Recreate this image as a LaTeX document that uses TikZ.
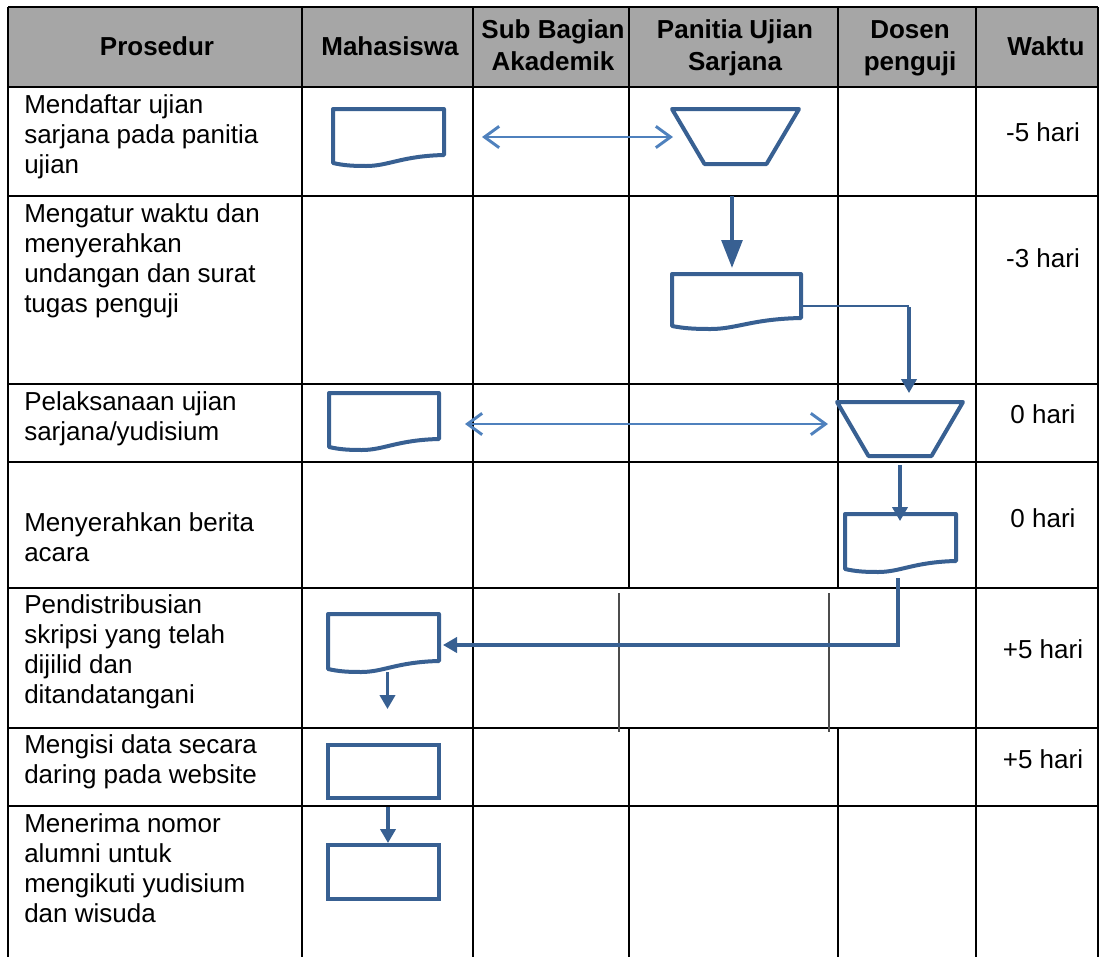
\documentclass[tikz,border=0pt]{standalone}
\usepackage{fontspec}
\setmainfont{Liberation Sans}
\usetikzlibrary{arrows.meta,calc}
\definecolor{shapeblue}{RGB}{56,96,146}
\definecolor{lightblue}{RGB}{79,129,189}
\definecolor{headgray}{RGB}{166,166,166}
\newdimen\upx \upx=0.75pt
\newcommand\docdraw[1]{%
  \draw[shp] (#1.south east) -- (#1.north east) -- (#1.north west) -- ($(#1.south west)+(0,8)$)
    .. controls ($(#1.south west)!0.1!(#1.south east)+(0,10.5)$) and ($(#1.south west)!0.18!(#1.south east)+(0,11)$) .. ($(#1.south west)!0.3!(#1.south east)+(0,11)$)
    .. controls ($(#1.south west)!0.5!(#1.south east)+(0,11)$) and ($(#1.south west)!0.62!(#1.south east)+(0,1)$) .. (#1.south east) -- cycle;}
\newcommand\trapdraw[2]{%
  \draw[shp] (#1.north west) -- (#1.north east) -- ($(#1.south east)+(-#2,0)$) -- ($(#1.south west)+(#2,0)$) -- cycle;}
\begin{document}
\begin{tikzpicture}[x=0.75pt,y=-0.75pt,
  tbl/.style={line width=1.6pt, black},
  thinl/.style={line width=0.8pt, black!70},
  shp/.style={draw=shapeblue, line width=3pt, line join=round},
  shpnode/.style={inner sep=0pt, outer sep=0pt},
  rectbox/.style={draw=shapeblue, line width=3.2pt, inner sep=0pt, outer sep=0pt},
  darr/.style={lightblue, line width=2.2pt, {Straight Barb[length=11pt,width=16pt]}-{Straight Barb[length=11pt,width=16pt]}},
  bigarr/.style={shapeblue, line width=3pt, -{Triangle[length=21pt,width=15.5pt]}},
  arr/.style={shapeblue, line width=2.3pt, -{Triangle[length=10.5pt,width=11.5pt]}},
  plainl/.style={shapeblue, line width=1.9pt},
  body/.style={font=\fontsize{19.5}{22.5}\selectfont, align=left, anchor=base west, inner sep=0pt},
  head/.style={font=\bfseries\fontsize{19.5}{24}\selectfont, align=center, anchor=base, inner sep=0pt},
  waktu/.style={font=\fontsize{19.5}{22.5}\selectfont, anchor=base, inner sep=0pt}]
\useasboundingbox (0,0) rectangle (1101,957);
% header background
\fill[headgray] (8,7) rectangle (1098,87);
% horizontal table lines
\foreach \yy in {7,87,196,384,462,588,728,806}
  \draw[tbl] (8,\yy) -- (1098,\yy);
% vertical table lines
\foreach \xx in {8,302,473,976,1098}
  \draw[tbl] (\xx,7) -- (\xx,960);
\foreach \xx in {629,838} {
  \draw[tbl] (\xx,7) -- (\xx,588);
  \draw[tbl] (\xx,728) -- (\xx,960);
}
\draw[thinl] (619,593) -- (619,732);
\draw[thinl] (829,593) -- (829,732);
% header texts (anchor = baseline of last line)
\node[head] (hp) at (157,55) {Prosedur};
\node[head] (hm) at (390,55) {Mahasiswa};
\node[head] (hs) at (553,70) {Sub Bagian\\Akademik};
\node[head] (hpu) at (735,70) {Panitia Ujian\\Sarjana};
\node[head] (hd) at (910,70) {Dosen\\penguji};
\node[head] (hw) at (1046,55) {Waktu};
% procedure texts (anchor = baseline of last line)
\node[body] (p1) at (24,173) {Mendaftar ujian\\sarjana pada panitia\\ujian};
\node[body] (p2) at (24,312) {Mengatur waktu dan\\menyerahkan\\undangan dan surat\\tugas penguji};
\node[body] (p3) at (24,440) {Pelaksanaan ujian\\sarjana/yudisium};
\node[body] (p4) at (24,561) {Menyerahkan berita\\acara};
\node[body] (p5) at (24,703) {Pendistribusian\\skripsi yang telah\\dijilid dan\\ditandatangani};
\node[body] (p6) at (24,783) {Mengisi data secara\\daring pada website};
\node[body] (p7) at (24,922) {Menerima nomor\\alumni untuk\\mengikuti yudisium\\dan wisuda};
% time texts
\node[waktu] (w1) at (1043,141) {-5 hari};
\node[waktu] (w2) at (1043,267) {-3 hari};
\node[waktu] (w3) at (1043,423) {0 hari};
\node[waktu] (w4) at (1043,527) {0 hari};
\node[waktu] (w5) at (1043,658) {+5 hari};
\node[waktu] (w6) at (1043,768) {+5 hari};
% shapes
\node[shpnode, minimum width=111\upx, minimum height=46\upx] (d1) at (388.5,132) {};
\docdraw{d1}
\node[shpnode, minimum width=127\upx, minimum height=55\upx] (t1) at (735.5,136.5) {};
\trapdraw{t1}{32.5}
\node[shpnode, minimum width=129\upx, minimum height=44\upx] (d2) at (736.5,296) {};
\docdraw{d2}
\node[shpnode, minimum width=110\upx, minimum height=46\upx] (d3) at (384,416) {};
\docdraw{d3}
\node[shpnode, minimum width=126\upx, minimum height=54\upx] (t2) at (900,429) {};
\trapdraw{t2}{31.5}
\node[shpnode, minimum width=111\upx, minimum height=47\upx] (d4) at (900.5,537.5) {};
\docdraw{d4}
\node[shpnode, minimum width=111\upx, minimum height=47\upx] (d5) at (383.5,637.5) {};
\docdraw{d5}
\node[rectbox, minimum width=111\upx, minimum height=53\upx] (r6) at (383.5,771.5) {};
\node[rectbox, minimum width=111\upx, minimum height=54\upx] (r7) at (383.5,872) {};
% connectors
\draw[darr] ($(d1.east)+(38,5)$) -- ($(t1.west)+(1,0.5)$);
\draw[bigarr] ($(t1.south)+(-3.5,32)$) -- ($(d2.north)+(-4.5,-6)$);
\coordinate (c1) at (909,306);
\draw[plainl] ($(d2.east)+(0,10)$) -- (c1);
\draw[arr] ($(c1)+(0,1)$) -- ($(t2.north)+(9,-9)$);
\draw[darr] ($(d3.east)+(26,8)$) -- ($(t2.west)+(-9,-5)$);
\draw[arr] ($(t2.south)+(0,9)$) -- ($(d4.north)+(-0.5,7)$);
\draw[arr] ($(d4.south)+(-2.5,17)$) |- ($(d5.east)+(4,7.5)$);
\draw[arr] ($(d5.south)+(4,11)$) -- ($(r6.north)+(4,-36)$);
\draw[arr] ($(r6.south)+(4.5,9)$) -- ($(r7.north)+(4.5,-2)$);
\end{tikzpicture}
\end{document}
